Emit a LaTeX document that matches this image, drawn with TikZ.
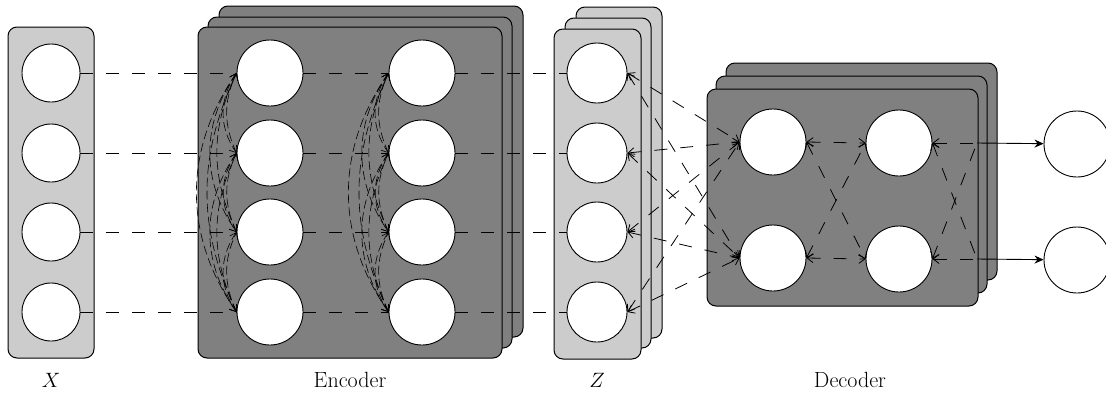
\documentclass[tikz,border=0pt]{standalone}
\usetikzlibrary{arrows.meta}
\begin{document}
\begin{tikzpicture}[x=1pt,y=-1pt,
  lightpanel/.style={draw=black,line width=1pt,fill=black!20,rounded corners=9pt},
  darkpanel/.style={draw=black,line width=1pt,fill=black!50,rounded corners=9pt},
  unit/.style={circle,draw=black,line width=0.9pt,fill=white,inner sep=0pt,minimum size=#1},
  unit/.default=66pt,
  link/.style={line width=0.8pt,dash pattern=on 13pt off 13pt},
  selflink/.style={line width=0.6pt,dash pattern=on 9pt off 4pt,
    -{Straight Barb[length=6pt,width=9pt]}},
  barb/.style={{Straight Barb[length=6pt,width=9pt]}-{Straight Barb[length=6pt,width=9pt]}},
  barbin/.style={{Straight Barb[length=6pt,width=9pt]}-},
  outarrow/.style={line width=0.9pt,-{Stealth[length=9pt,width=8pt]}},
  caption/.style={font=\fontsize{22}{26}\selectfont,anchor=base}
]
\useasboundingbox (0,0) rectangle (1106,394);

% input column X
\draw[lightpanel] (8,27) rectangle (94,358);
% encoder stack
\draw[darkpanel] (219,6) rectangle (523,337);
\draw[darkpanel] (208,17) rectangle (512,348);
\draw[darkpanel] (198,27) rectangle (502,358);
% latent stack Z
\draw[lightpanel] (576,7) rectangle (662,338);
\draw[lightpanel] (565,18) rectangle (651,348);
\draw[lightpanel] (554,29) rectangle (641,359);
% decoder stack
\draw[darkpanel] (726,63) rectangle (997,280);
\draw[darkpanel] (716,76) rectangle (987,293);
\draw[darkpanel] (707,89) rectangle (978,306);

% units
\foreach \i/\y in {1/73,2/153,3/232,4/312} {
  \node[unit=58pt] (x\i) at (51,\y) {};
  \node[unit] (a\i) at (270,\y) {};
  \node[unit] (b\i) at (422,\y) {};
  \node[unit=60pt] (z\i) at (597,\y) {};
}
\node[unit] (d1) at (773,142) {};
\node[unit] (d2) at (773,258) {};
\node[unit] (e1) at (899,143) {};
\node[unit] (e2) at (899,259) {};
\node[unit] (o1) at (1077,144) {};
\node[unit] (o2) at (1077,260) {};
\coordinate (p1) at (977,143);
\coordinate (p2) at (977,259);

% forward links
\foreach \i in {1,...,4} {
  \draw[link] (x\i) -- (a\i);
  \draw[link] (a\i) -- (b\i);
  \draw[link] (b\i) -- (z\i);
}

% links among the units of each encoder layer
\foreach \c in {a,b} {
  \foreach \i in {1,...,4} {
    \foreach \j in {1,...,4} {
      \ifnum\i<\j
        \draw[selflink] (\c\i.west) to[out=235,in=125] (\c\j.west);
      \fi
      \ifnum\i>\j
        \draw[selflink] (\c\i.west) to[out=115,in=245] (\c\j.west);
      \fi
    }
  }
}

% latent to decoder
\foreach \i in {1,...,4} {
  \foreach \j in {1,2} {
    \draw[link,barb] (z\i.east) -- (d\j.west);
  }
}
\foreach \i in {1,2} {
  \foreach \j in {1,2} {
    \draw[link,barb] (d\i.east) -- (e\j.west);
    \draw[link,barbin] (e\i.east) -- (p\j);
  }
}
\draw[outarrow] (p1) -- (o1);
\draw[outarrow] (p2) -- (o2);

% captions
\node[caption] (lx) at (51,387) {$X$};
\node[caption] (le) at (350,387) {Encoder};
\node[caption] (lz) at (597,387) {$Z$};
\node[caption] (ld) at (850,387) {Decoder};
\end{tikzpicture}
\end{document}
